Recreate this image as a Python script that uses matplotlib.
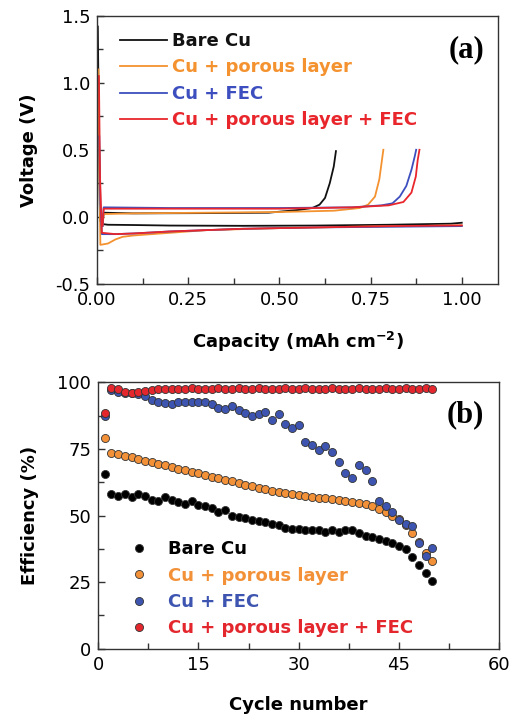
import numpy as np
import matplotlib.pyplot as plt

plt.rcParams['font.family'] = ['DejaVu Sans']
plt.rcParams['axes.unicode_minus'] = False
plt.rcParams['mathtext.fontset'] = 'dejavusans'

labels = ["Bare Cu", "Cu + porous layer", "Cu + FEC", "Cu + porous layer + FEC"]
line_colors = ["#111111", "#f4922f", "#3d4fbf", "#e8262c"]
dot_colors = ["#000000", "#f39139", "#3d55b0", "#e3272d"]

# plating (discharge) curves: capacity (mAh cm-2), voltage (V)
plate_cap = [
    [0.002, 0.004, 0.008, 0.015, 0.03, 0.1, 0.2, 0.4, 0.6, 0.8, 0.97, 1.0],
    [0.004, 0.006, 0.009, 0.03, 0.05, 0.07, 0.1, 0.2, 0.3, 0.5, 0.7, 1.0],
    [0.006, 0.009, 0.013, 0.05, 0.1, 0.2, 0.4, 0.6, 0.8, 1.0],
    [0.005, 0.008, 0.013, 0.05, 0.1, 0.2, 0.4, 0.6, 0.8, 1.0],
]
plate_v = [
    [1.42, 0.9, -0.03, -0.055, -0.06, -0.062, -0.066, -0.068, -0.066, -0.06, -0.052, -0.045],
    [1.10, 0.40, -0.21, -0.20, -0.17, -0.15, -0.14, -0.12, -0.10, -0.085, -0.075, -0.065],
    [0.60, 0.10, -0.13, -0.13, -0.125, -0.11, -0.09, -0.08, -0.075, -0.07],
    [1.05, 0.30, -0.12, -0.13, -0.125, -0.11, -0.09, -0.08, -0.07, -0.065],
]

# stripping (charge) curves
strip_cap = [
    [0.015, 0.018, 0.1, 0.3, 0.47, 0.55, 0.59, 0.61, 0.625, 0.638, 0.649, 0.655],
    [0.015, 0.018, 0.1, 0.3, 0.5, 0.65, 0.72, 0.743, 0.762, 0.774, 0.78, 0.785],
    [0.015, 0.018, 0.2, 0.5, 0.7, 0.78, 0.81, 0.83, 0.848, 0.862, 0.871, 0.875],
    [0.015, 0.018, 0.2, 0.5, 0.7, 0.8, 0.84, 0.862, 0.874, 0.879, 0.884],
]
strip_v = [
    [-0.05, 0.03, 0.025, 0.027, 0.03, 0.05, 0.065, 0.09, 0.14, 0.25, 0.375, 0.49],
    [-0.07, 0.02, 0.025, 0.03, 0.035, 0.045, 0.065, 0.09, 0.15, 0.28, 0.40, 0.50],
    [-0.07, 0.07, 0.065, 0.065, 0.07, 0.085, 0.10, 0.15, 0.23, 0.35, 0.45, 0.50],
    [-0.065, 0.06, 0.06, 0.06, 0.07, 0.085, 0.11, 0.18, 0.30, 0.42, 0.50],
]

cycles = np.arange(1, 51)
eff_bare = [65.5, 58.0, 57.5, 58.0, 57.0, 58.0, 57.5, 56.0, 55.5, 57.0,
            56.0, 55.0, 54.5, 55.5, 54.0, 53.5, 53.0, 51.5, 52.0, 50.0,
            49.5, 49.0, 48.5, 48.0, 47.5, 47.0, 46.5, 45.5, 45.0, 45.0,
            44.5, 44.5, 44.5, 44.0, 44.5, 44.0, 44.5, 44.5, 43.5, 42.5,
            42.0, 41.0, 40.5, 39.5, 38.5, 37.5, 34.5, 31.5, 28.5, 25.5]
eff_porous = [79.0, 73.6, 73.0, 72.4, 71.8, 71.2, 70.6, 70.0, 69.4, 68.8,
              68.2, 67.6, 67.0, 66.4, 65.8, 65.2, 64.6, 64.0, 63.4, 62.8,
              62.2, 61.6, 61.0, 60.4, 59.8, 59.3, 58.8, 58.4, 58.0, 57.6,
              57.3, 57.0, 56.7, 56.4, 56.1, 55.8, 55.5, 55.1, 54.7, 54.2,
              53.5, 52.6, 51.4, 50.0, 48.6, 46.5, 43.5, 40.0, 36.0, 32.8]
eff_fec = [87.5, 97.0, 96.5, 96.0, 96.0, 95.5, 94.8, 93.5, 92.7, 92.2,
           92.0, 92.5, 92.6, 92.5, 92.7, 92.5, 92.0, 90.5, 90.0, 91.0,
           89.5, 88.5, 87.5, 88.0, 89.0, 86.0, 88.0, 84.5, 83.0, 84.0,
           77.5, 76.5, 74.5, 76.0, 74.0, 70.0, 66.0, 64.0, 69.0, 67.0,
           62.8, 55.4, 53.5, 51.2, 48.2, 47.0, 46.2, 39.5, 34.7, 37.9]
eff_both = [88.5, 97.8, 97.5, 96.5, 96.0, 96.2, 96.8, 97.2, 97.5, 97.6,
            97.5, 97.6, 97.4, 98.0, 97.6, 97.5, 97.4, 98.0, 97.6, 97.5,
            97.7, 97.4, 97.6, 97.8, 97.5, 97.6, 97.4, 97.8, 97.5, 97.6,
            97.7, 97.4, 97.6, 97.5, 97.8, 97.5, 97.4, 97.6, 97.8, 97.5,
            97.6, 97.4, 97.7, 97.5, 97.6, 97.8, 97.4, 97.6, 97.8, 97.5]
effs = [eff_bare, eff_porous, eff_fec, eff_both]

fig = plt.figure(figsize=(5.11, 7.2), dpi=100)
ax1 = fig.add_axes([0.190, 0.606, 0.785, 0.372])
ax2 = fig.add_axes([0.192, 0.099, 0.785, 0.370])

def style(ax):
    for s in ax.spines.values():
        s.set_linewidth(1.0)
        s.set_color("#333333")
    ax.tick_params(which="both", direction="in", top=False, right=False,
                   labelsize=13, color="#333333")
    ax.tick_params(which="major", length=5, width=1.0, pad=5)
    ax.tick_params(which="minor", length=4, width=1.0)

# (a) voltage profiles
for i in range(4):
    ax1.plot(plate_cap[i], plate_v[i], color=line_colors[i], lw=1.3)
    ax1.plot(strip_cap[i], strip_v[i], color=line_colors[i], lw=1.3,
             label=labels[i])
ax1.set_xlim(0, 1.1)
ax1.set_ylim(-0.5, 1.5)
ax1.set_xticks([0, 0.25, 0.5, 0.75, 1.0])
ax1.set_xticks(np.arange(0.125, 1.1, 0.25), minor=True)
ax1.set_yticks([-0.5, 0.0, 0.5, 1.0, 1.5])
ax1.set_yticks([-0.25, 0.25, 0.75, 1.25], minor=True)
ax1.xaxis.set_major_formatter(plt.FormatStrFormatter("%.2f"))
ax1.yaxis.set_major_formatter(plt.FormatStrFormatter("%.1f"))
style(ax1)
ax1.set_xlabel(r"Capacity (mAh cm$^{\mathbf{-2}}$)", fontsize=13,
               fontweight="bold", labelpad=15)
ax1.set_ylabel("Voltage (V)", fontsize=13, fontweight="bold", labelpad=12)
ax1.legend(loc="upper left", bbox_to_anchor=(0.057, 0.94),
           frameon=False, handlelength=2.6, handletextpad=0.3,
           labelspacing=0.47, borderpad=0, borderaxespad=0,
           labelcolor="linecolor", prop={"weight": "bold", "size": 13})
ax1.text(0.92, 0.872, "(a)", transform=ax1.transAxes, ha="center",
         va="center", fontsize=22, fontweight="bold",
         family="Liberation Serif")

# (b) coulombic efficiency
for i in range(4):
    ax2.plot(cycles, effs[i], ls="none", marker="o", ms=5.8,
             mfc=dot_colors[i], mec="#333333", mew=0.6, label=labels[i])
ax2.set_xlim(0, 60)
ax2.set_ylim(0, 100)
ax2.set_xticks([0, 15, 30, 45, 60])
ax2.set_xticks([7.5, 22.5, 37.5, 52.5], minor=True)
ax2.set_yticks([0, 25, 50, 75, 100])
ax2.set_yticks([12.5, 37.5, 62.5, 87.5], minor=True)
style(ax2)
ax2.set_xlabel("Cycle number", fontsize=13, fontweight="bold", labelpad=16)
ax2.set_ylabel("Efficiency (%)", fontsize=13, fontweight="bold", labelpad=13)
ax2.legend(loc="upper left", bbox_to_anchor=(0.075, 0.408), frameon=False,
           handlelength=1.2, handletextpad=1.0, labelspacing=0.47,
           borderpad=0, borderaxespad=0, labelcolor="markerfacecolor",
           prop={"weight": "bold", "size": 13})
ax2.text(0.915, 0.88, "(b)", transform=ax2.transAxes, ha="center",
         va="center", fontsize=22, fontweight="bold",
         family="Liberation Serif")

fig.savefig("out.png", dpi=100)
